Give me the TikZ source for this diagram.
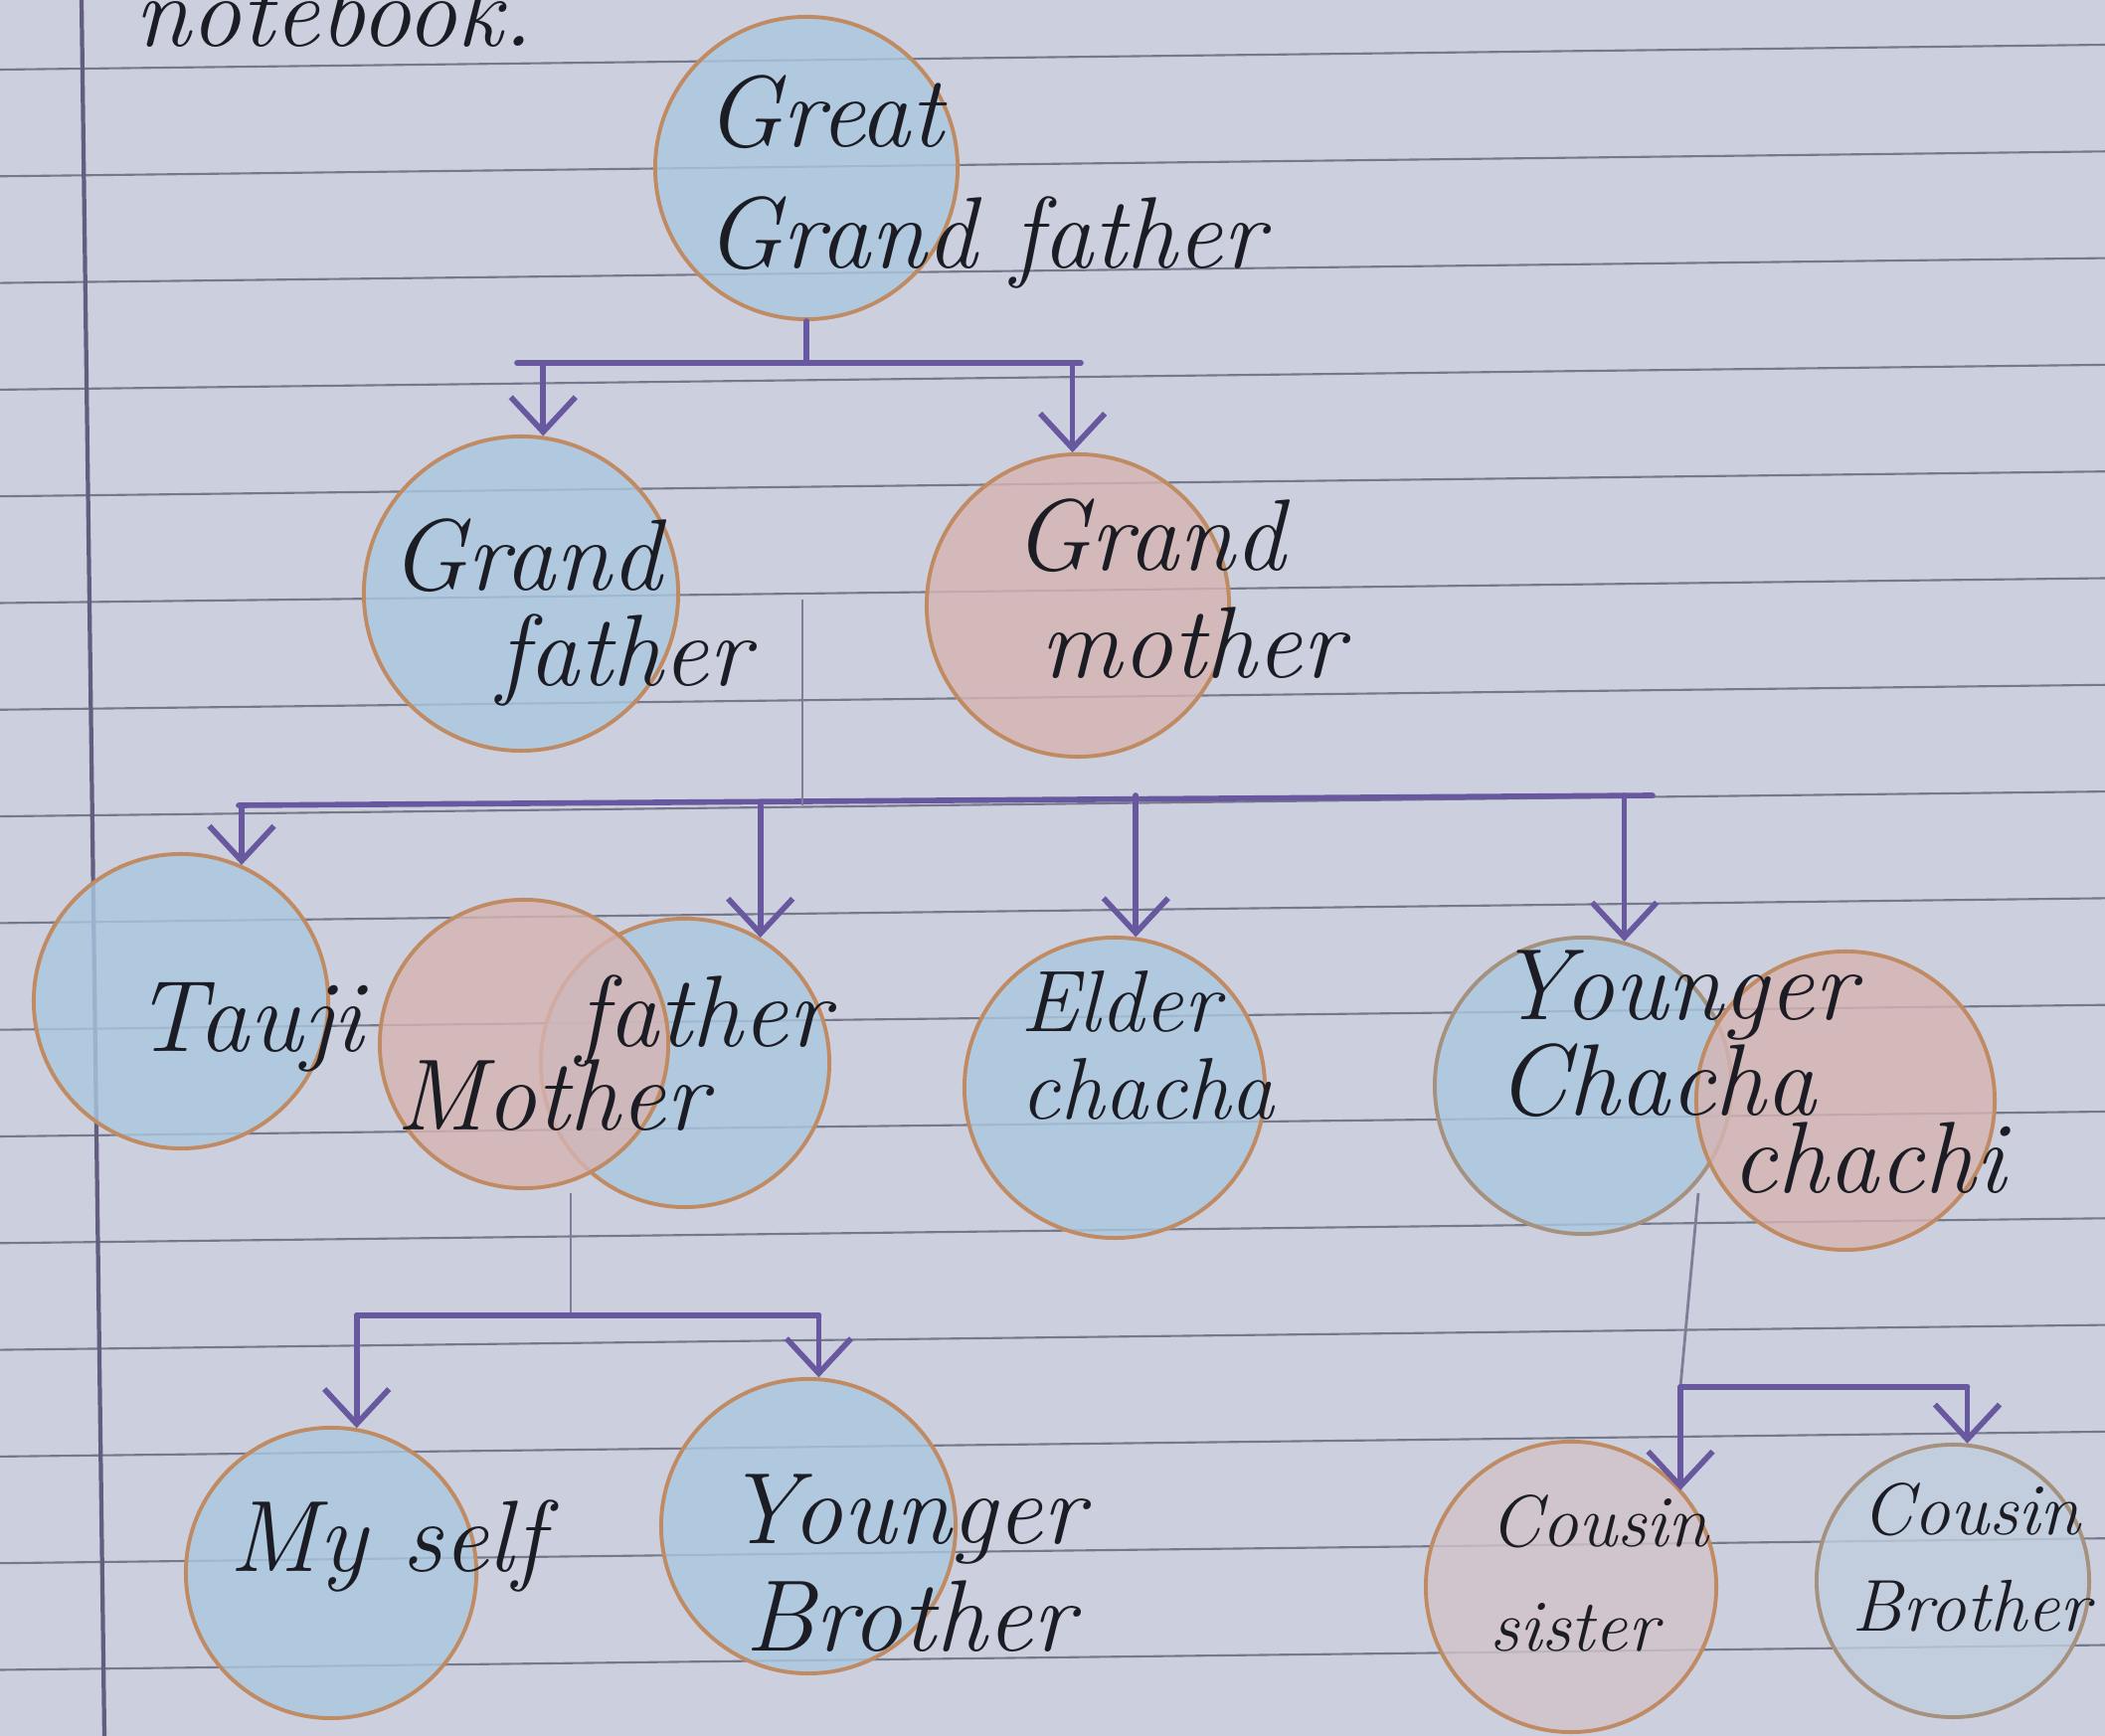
\documentclass[tikz,border=0pt]{standalone}
\usepackage{tikz}
\usetikzlibrary{arrows.meta,positioning,calc}
\definecolor{paper}{RGB}{204,207,221}
\definecolor{rulegrey}{RGB}{118,121,140}
\definecolor{margin}{RGB}{98,94,128}
\definecolor{ink}{RGB}{104,88,160}
\definecolor{pencil}{RGB}{128,126,150}
\definecolor{rim}{RGB}{192,138,98}
\definecolor{rimgrey}{RGB}{165,145,125}
\definecolor{crayonblue}{RGB}{170,200,224}
\definecolor{crayonpink}{RGB}{214,180,178}
\definecolor{pen}{RGB}{28,28,36}

\begin{document}
\begin{tikzpicture}[x=0.01cm, y=-0.01cm,
  person/.style={circle, draw=rim, line width=1.1pt, inner sep=0pt,
    fill opacity=0.8},
  male/.style={person, fill=crayonblue},
  female/.style={person, fill=crayonpink},
  hand/.style={anchor=base west, inner sep=0pt, text=pen,
    font=\fontsize{29}{31}\selectfont\itshape},
  midhand/.style={hand, font=\fontsize{25}{27}\selectfont\itshape},
  smallhand/.style={hand, font=\fontsize{21}{23}\selectfont\itshape},
  bar/.style={draw=ink, line width=1.6pt, line cap=round},
  arr/.style={bar, -{Straight Barb[length=3.5mm,width=6.5mm]}},
  stem/.style={draw=pencil, line width=0.8pt}]
\useasboundingbox (0,0) rectangle (2117,1746);
\fill[paper] (0,0) rectangle (2117,1746);
\clip (0,0) rectangle (2117,1746);
% ruled page
\foreach \k in {0,...,15}
  \draw[rulegrey, line width=0.6pt] (0,{70+107.3*\k}) -- (2117,{45+107.3*\k});
\draw[margin, line width=1.2pt] (82,0) -- (105,1746);
\node[hand] (top) at (135,47) {notebook.};

% people
\node[male, minimum size=3.04cm] (ggf) at (811,169) {};
\node[male, minimum size=3.16cm] (gf) at (524,597) {};
\node[female, minimum size=3.04cm] (gm) at (1084,609) {};
\node[male, minimum size=2.96cm] (tauji) at (182,1007) {};
\node[male, minimum size=2.9cm] (father) at (689,1069) {};
\node[female, minimum size=2.9cm] (mother) at (527,1050) {};
\node[male, minimum size=3.02cm] (elder) at (1121,1094) {};
\node[male, draw=rimgrey, minimum size=2.98cm] (ychacha) at (1592,1092) {};
\node[female, minimum size=3cm] (chachi) at (1856,1107) {};
\node[male, minimum size=2.92cm] (myself) at (333,1582) {};
\node[male, minimum size=2.96cm] (ybrother) at (813,1535) {};
\node[female, fill=crayonpink!45!paper, minimum size=2.92cm] (csister) at (1580,1596) {};
\node[male, draw=rimgrey, fill=crayonblue!35!paper, minimum size=2.74cm] (cbrother) at (1964,1590) {};

% labels
\node[hand] (l-ggf1) at (709,148) {Great};
\node[hand] (l-ggf2) at (709,270) {Grand father};
\node[hand] (l-gf1) at (392,594) {Grand};
\node[hand] (l-gf2) at (500,690) {father};
\node[hand] (l-gm1) at (1019,574) {Grand};
\node[hand] (l-gm2) at (1046,682) {mother};
\node[hand] (l-tauji) at (135,1058) {Tauji};
\node[hand] (l-father) at (580,1053) {father};
\node[hand] (l-mother) at (398,1137) {Mother};
\node[midhand] (l-elder1) at (1026,1038) {Elder};
\node[midhand] (l-elder2) at (1026,1126) {chacha};
\node[hand] (l-yc1) at (1505,1026) {Younger};
\node[hand] (l-yc2) at (1505,1122) {Chacha};
\node[hand] (l-chachi) at (1741,1199) {chachi};
\node[hand] (l-myself) at (230,1580) {My self};
\node[hand] (l-yb1) at (729,1552) {Younger};
\node[hand] (l-yb2) at (749,1660) {Brother};
\node[smallhand] (l-cs1) at (1498,1555) {Cousin};
\node[smallhand] (l-cs2) at (1498,1660) {sister};
\node[smallhand] (l-cb1) at (1872,1543) {Cousin};
\node[smallhand] (l-cb2) at (1862,1640) {Brother};

% great grandfather to his children
\coordinate (b1l) at (520,365);
\coordinate (b1r) at (1087,365);
\draw[bar] (b1l) -- (b1r);
\draw[bar] (ggf) -- (ggf |- b1l);
\draw[arr] (gf.82 |- b1l) -- (gf.82);
\draw[arr] (gm.92 |- b1l) -- (gm.92);

% grandparents to their children
\coordinate (m1) at ($(gf.east)!0.5!(gm.west)$);
\coordinate (b2l) at (240,810);
\coordinate (b2r) at (1662,800);
\draw[bar] (b2l) -- (b2r);
\draw[stem] (m1) -- (m1 |- b2l);
\draw[arr] (tauji.66 |- b2l) -- (tauji.66);
\draw[arr] (father.59 |- b2l) -- (father.59);
\draw[arr] (elder.82 |- b2r) -- (elder.82);
\draw[arr] (ychacha.74 |- b2r) -- (ychacha.74);

% parents to us
\coordinate (p1) at (574,1200);
\coordinate (b3) at (574,1323);
\draw[stem] (p1) -- (b3);
\draw[bar] (myself.80 |- b3) -- (ybrother.86 |- b3);
\draw[arr] (myself.80 |- b3) -- (myself.80);
\draw[arr] (ybrother.86 |- b3) -- (ybrother.86);

% younger chacha to cousins
\coordinate (c1) at (1708,1200);
\coordinate (b4) at (1690,1395);
\draw[stem] (c1) -- (b4);
\draw[bar] (b4) -- (cbrother.84 |- b4);
\draw[arr] (b4) -- (b4 |- csister.41);
\draw[arr] (cbrother.84 |- b4) -- (cbrother.84);
\end{tikzpicture}
\end{document}
